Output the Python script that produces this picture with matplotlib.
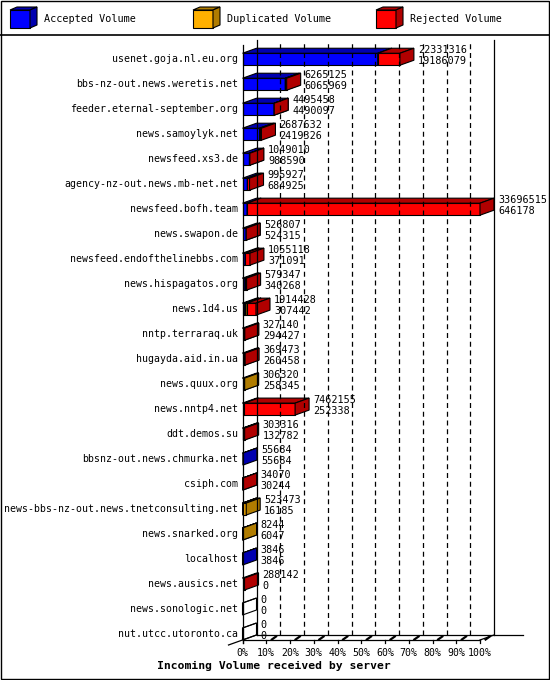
import matplotlib
matplotlib.use("Agg")
import matplotlib.pyplot as plt
from matplotlib.patches import Polygon, Rectangle
import numpy as np

servers = ["usenet.goja.nl.eu.org", "bbs-nz-out.news.weretis.net", "feeder.eternal-september.org",
           "news.samoylyk.net", "newsfeed.xs3.de", "agency-nz-out.news.mb-net.net",
           "newsfeed.bofh.team", "news.swapon.de", "newsfeed.endofthelinebbs.com",
           "news.hispagatos.org", "news.1d4.us", "nntp.terraraq.uk", "hugayda.aid.in.ua",
           "news.quux.org", "news.nntp4.net", "ddt.demos.su", "bbsnz-out.news.chmurka.net",
           "csiph.com", "news-bbs-nz-out.news.tnetconsulting.net", "news.snarked.org",
           "localhost", "news.ausics.net", "news.sonologic.net", "nut.utcc.utoronto.ca"]
total = [22331316, 6265125, 4495458, 2687632, 1049010, 995927, 33696515, 526807, 1055118,
         579347, 1914428, 327140, 369473, 306320, 7462155, 303316, 55684, 34070, 523473,
         8244, 3846, 288142, 0, 0]
accepted = [19186079, 6065969, 4490097, 2419326, 988590, 684925, 646178, 524315, 371091,
            340268, 307442, 294427, 260458, 258345, 252338, 132782, 55684, 30244, 16185,
            6047, 3846, 0, 0, 0]
duplicated = [0, 0, 0, 0, 0, 0, 0, 0, 0, 0, 330000, 0, 0, 47975, 0, 0, 0, 0, 507288,
              2197, 0, 0, 0, 0]
legend_labels = ["Accepted Volume", "Duplicated Volume", "Rejected Volume"]
pct_ticks = [0, 10, 20, 30, 40, 50, 60, 70, 80, 90, 100]
title = "Incoming Volume received by server"

front_cols = ["#0000FF", "#FFB000", "#FF0000"]
dark_cols = ["#0000B0", "#B07C00", "#B00000"]

total = np.array(total, float)
accepted = np.array(accepted, float)
duplicated = np.array(duplicated, float)
rejected = total - accepted - duplicated
scale = 100.0 / total.max()

FONT = "DejaVu Sans Mono"
FS = 7.1
W, H = 550, 680
fig = plt.figure(figsize=(W / 100, H / 100), dpi=100)
fig.patch.set_facecolor("white")

# overlay (frame + legend)
lax = fig.add_axes([0, 0, 1, 1])
lax.set_xlim(0, W)
lax.set_ylim(H, 0)
lax.axis("off")
lax.add_patch(Rectangle((0.5, 0.5), W - 1.5, H - 1.5, fill=False, ec="black", lw=1.0))
lax.plot([0, W], [35, 35], color="black", lw=1.2)
for k, (lab, fc, dc) in enumerate(zip(legend_labels, front_cols, dark_cols)):
    x = 10 + 183 * k
    lax.add_patch(Rectangle((x, 10), 20, 18, fc=fc, ec="black", lw=0.8))
    lax.add_patch(Polygon([(x, 10), (x + 20, 10), (x + 27, 7), (x + 7, 7)], closed=True,
                          fc=dc, ec="black", lw=0.8))
    lax.add_patch(Polygon([(x + 20, 10), (x + 27, 7), (x + 27, 25), (x + 20, 28)], closed=True,
                          fc=dc, ec="black", lw=0.8))
    lax.text(x + 34, 19.5, lab, fontsize=FS + 0.2, family=FONT, ha="left", va="center")

# main chart axes
x0px, x1px, ytop, ybot = 242.5, 480.0, 45.0, 640.0
ax = fig.add_axes([x0px / W, (H - ybot) / H, (x1px - x0px) / W, (ybot - ytop) / H])
n = len(servers)
YMIN, YMAX = -0.57, 23.24
ax.set_xlim(0, 100)
ax.set_ylim(YMAX, YMIN)
ax.axis("off")
pxx = (x1px - x0px) / 100.0
pxy = (ybot - ytop) / (YMAX - YMIN)
DX = 14 / pxx
DY = 5 / pxy
kw = dict(clip_on=False)

# back wall grid
for p in pct_ticks[1:-1]:
    ax.plot([p + DX, p + DX], [YMAX - DY, YMIN - DY], color="black", lw=0.9,
            linestyle=(0, (4, 3)), **kw)
ax.plot([DX, DX], [YMAX - DY, YMIN - DY], color="black", lw=0.9, **kw)
ax.plot([100 + DX, 100 + DX], [YMAX - DY, YMIN - DY], color="black", lw=0.9, **kw)
ax.plot([DX, 100 + DX + 12.2], [YMAX - DY, YMAX - DY], color="black", lw=0.9, **kw)
ax.plot([0, 100], [YMAX, YMAX], color="black", lw=0.9, **kw)
ax.plot([100, 100 + DX], [YMAX, YMAX - DY], color="black", lw=0.9, **kw)
ax.plot([-DX, DX], [YMAX + DY, YMAX - DY], color="black", lw=0.9, **kw)
ax.plot([0, 0], [YMIN, YMAX + 0.12], color="black", lw=0.9, **kw)
for p in pct_ticks:
    ax.plot([p, p], [YMAX, YMAX + 0.12], color="black", lw=0.9, **kw)
    if 0 < p:
        ax.plot([p + 0.4 * DX, p + 0.7 * DX], [YMAX - 0.1 * DY, YMAX - 0.7 * DY],
                color="black", lw=1.6, **kw)
    ax.text(p, YMAX + 0.52, f"{p}%", fontsize=FS, family=FONT, ha="center", va="center", **kw)

h = 0.48


def box(xa, xb, yc, fc, dc, fill=True):
    top, bot = yc - h / 2, yc + h / 2
    ax.add_patch(Rectangle((xa, top), xb - xa, h, fc=fc if fill else "none", ec="black",
                           lw=0.8, **kw))
    ax.add_patch(Polygon([(xa, top), (xb, top), (xb + DX, top - DY), (xa + DX, top - DY)],
                         closed=True, fc=dc if fill else "none", ec="black", lw=0.8, **kw))
    ax.add_patch(Polygon([(xb, top), (xb + DX, top - DY), (xb + DX, bot - DY), (xb, bot)],
                         closed=True, fc=dc if fill else "none", ec="black", lw=0.8, **kw))


for i in range(n):
    segs = [accepted[i], duplicated[i], rejected[i]]
    start = 0.0
    drawn = False
    for s, fc, dc in zip(segs, front_cols, dark_cols):
        if s <= 0:
            continue
        end = start + s * scale
        box(start, end, i, fc, dc)
        start = end
        drawn = True
    if not drawn:
        box(0, 0, i, "white", "white", fill=False)
    ax.text(-1.9, i, servers[i], fontsize=FS, family=FONT, ha="right", va="center", **kw)
    xt = total[i] * scale + DX + 1.7
    ax.text(xt, i - 0.37, f"{int(total[i])}", fontsize=FS + 0.2, family=FONT, ha="left",
            va="center", **kw)
    ax.text(xt, i + 0.06, f"{int(accepted[i])}", fontsize=FS + 0.2, family=FONT, ha="left",
            va="center", **kw)

fig.text(274 / W, 1 - 666 / H, title, fontsize=8.2, family=FONT, weight="bold",
         ha="center", va="center")

fig.savefig("out.png", dpi=100)
